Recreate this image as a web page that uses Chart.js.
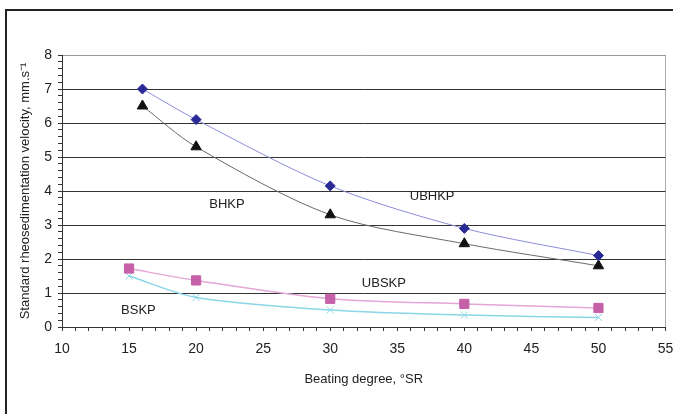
<!DOCTYPE html>
<html>
<head>
<meta charset="utf-8">
<script src="https://cdn.jsdelivr.net/npm/chart.js@4/dist/chart.umd.min.js"></script>
<style>
  html, body { margin: 0; padding: 0; background: #fff; }
  #wrap { position: relative; width: 673px; height: 414px; }
  #frame { position: absolute; left: 5px; top: 9px; right: 0; bottom: 0;
           border-top: 2px solid #222; border-left: 2px solid #222; pointer-events: none; }
</style>
</head>
<body>
<div id="wrap">
  <canvas id="chart" width="673" height="414"></canvas>
  <div id="frame"></div>
</div>
<script>
// beating degree, °SR
const hardwoodDegree = [16, 20, 30, 40, 50];
const softwoodDegree = [15, 20, 30, 40, 50];

// standard rheosedimentation velocity, mm/s
const ubhkp = [7.0, 6.1, 4.15, 2.9, 2.1];
const bhkp = [6.5, 5.3, 3.3, 2.45, 1.8];
const ubskp = [1.72, 1.37, 0.83, 0.68, 0.56];
const bskp = [1.5, 0.87, 0.5, 0.35, 0.28];

// series labels written inside the plot
const labelNames = ["BHKP", "UBHKP", "UBSKP", "BSKP"];
const labelX = [22.3, 37.6, 34.0, 15.7];
const labelY = [3.6, 3.83, 1.29, 0.5];

const FONT = "'Liberation Sans', Arial, sans-serif";

function points(xs, ys) {
  return xs.map((x, i) => ({ x: x, y: ys[i] }));
}

function isInt(v) {
  return Math.abs(v - Math.round(v)) < 1e-6;
}

const seriesLabels = {
  id: "seriesLabels",
  afterDatasetsDraw(chart) {
    const { ctx, scales } = chart;
    ctx.save();
    ctx.font = "13px " + FONT;
    ctx.fillStyle = "#222";
    ctx.textAlign = "center";
    ctx.textBaseline = "middle";
    labelNames.forEach((name, i) => {
      ctx.fillText(name, scales.x.getPixelForValue(labelX[i]), scales.y.getPixelForValue(labelY[i]));
    });
    ctx.restore();
  },
};

new Chart(document.getElementById("chart"), {
  type: "scatter",
  data: {
    datasets: [
      {
        label: "UBHKP",
        data: points(hardwoodDegree, ubhkp),
        showLine: true,
        tension: 0.3,
        borderColor: "#8c8cdc",
        borderWidth: 1,
        pointStyle: "rectRot",
        pointRadius: 5,
        pointBackgroundColor: "#2a2a96",
        pointBorderColor: "#2a2a96",
        pointBorderWidth: 1,
      },
      {
        label: "BHKP",
        data: points(hardwoodDegree, bhkp),
        showLine: true,
        tension: 0.3,
        borderColor: "#6a6a6a",
        borderWidth: 1,
        pointStyle: "triangle",
        pointRadius: 6,
        pointBackgroundColor: "#111",
        pointBorderColor: "#111",
        pointBorderWidth: 1,
      },
      {
        label: "UBSKP",
        data: points(softwoodDegree, ubskp),
        showLine: true,
        tension: 0.3,
        borderColor: "#e6a6d6",
        borderWidth: 1.5,
        pointStyle: "rect",
        pointRadius: 6.5,
        pointBackgroundColor: "#c660a8",
        pointBorderColor: "#c660a8",
        pointBorderWidth: 1,
      },
      {
        label: "BSKP",
        data: points(softwoodDegree, bskp),
        showLine: true,
        tension: 0.3,
        borderColor: "#8ad6e6",
        borderWidth: 1.5,
        pointStyle: "crossRot",
        pointRadius: 5,
        pointBackgroundColor: "#8ad6e6",
        pointBorderColor: "#8ad6e6",
        pointBorderWidth: 1,
      },
    ],
  },
  options: {
    responsive: false,
    animation: false,
    events: [],
    layout: { padding: { top: 55, right: 0, left: 0, bottom: 0 } },
    plugins: {
      legend: { display: false },
      tooltip: { enabled: false },
    },
    scales: {
      x: {
        type: "linear",
        min: 10,
        max: 55,
        afterFit(scale) {
          scale.height = 87;
          scale.paddingLeft = 0;
          scale.paddingRight = 7;
        },
        border: { display: true, color: "#333", width: 1 },
        grid: {
          drawOnChartArea: true,
          color: (c) => (c.tick && c.tick.value === 55 ? "#aaa" : "rgba(0,0,0,0)"),
          tickColor: "#333",
          tickLength: 4,
        },
        ticks: {
          stepSize: 1,
          autoSkip: false,
          maxRotation: 0,
          color: "#222",
          font: { family: FONT, size: 14 },
          padding: 10,
          callback: (v) => (v % 5 === 0 ? String(v) : ""),
        },
        title: {
          display: true,
          text: "Beating degree, °SR",
          color: "#222",
          font: { family: FONT, size: 13 },
          padding: { top: 10, bottom: 27 },
        },
      },
      y: {
        min: 0,
        max: 8,
        afterFit(scale) {
          scale.width = 62;
          scale.paddingTop = 0;
          scale.paddingBottom = 0;
        },
        border: { display: true, color: "#333", width: 1 },
        grid: {
          color: (c) => {
            if (!c.tick) return "rgba(0,0,0,0)";
            if (c.tick.value === 8) return "#999";
            return isInt(c.tick.value) ? "#333" : "rgba(0,0,0,0)";
          },
          tickColor: "#333",
          tickLength: 4,
        },
        ticks: {
          stepSize: 0.2,
          autoSkip: false,
          color: "#222",
          font: { family: FONT, size: 14 },
          padding: 6,
          callback: (v) => (isInt(v) ? String(Math.round(v)) : ""),
        },
        title: {
          display: true,
          text: "Standard rheosedimentation velocity, mm.s⁻¹",
          color: "#222",
          font: { family: FONT, size: 13 },
          padding: { top: 18, bottom: 4 },
        },
      },
    },
  },
  plugins: [seriesLabels],
});
</script>
</body>
</html>
